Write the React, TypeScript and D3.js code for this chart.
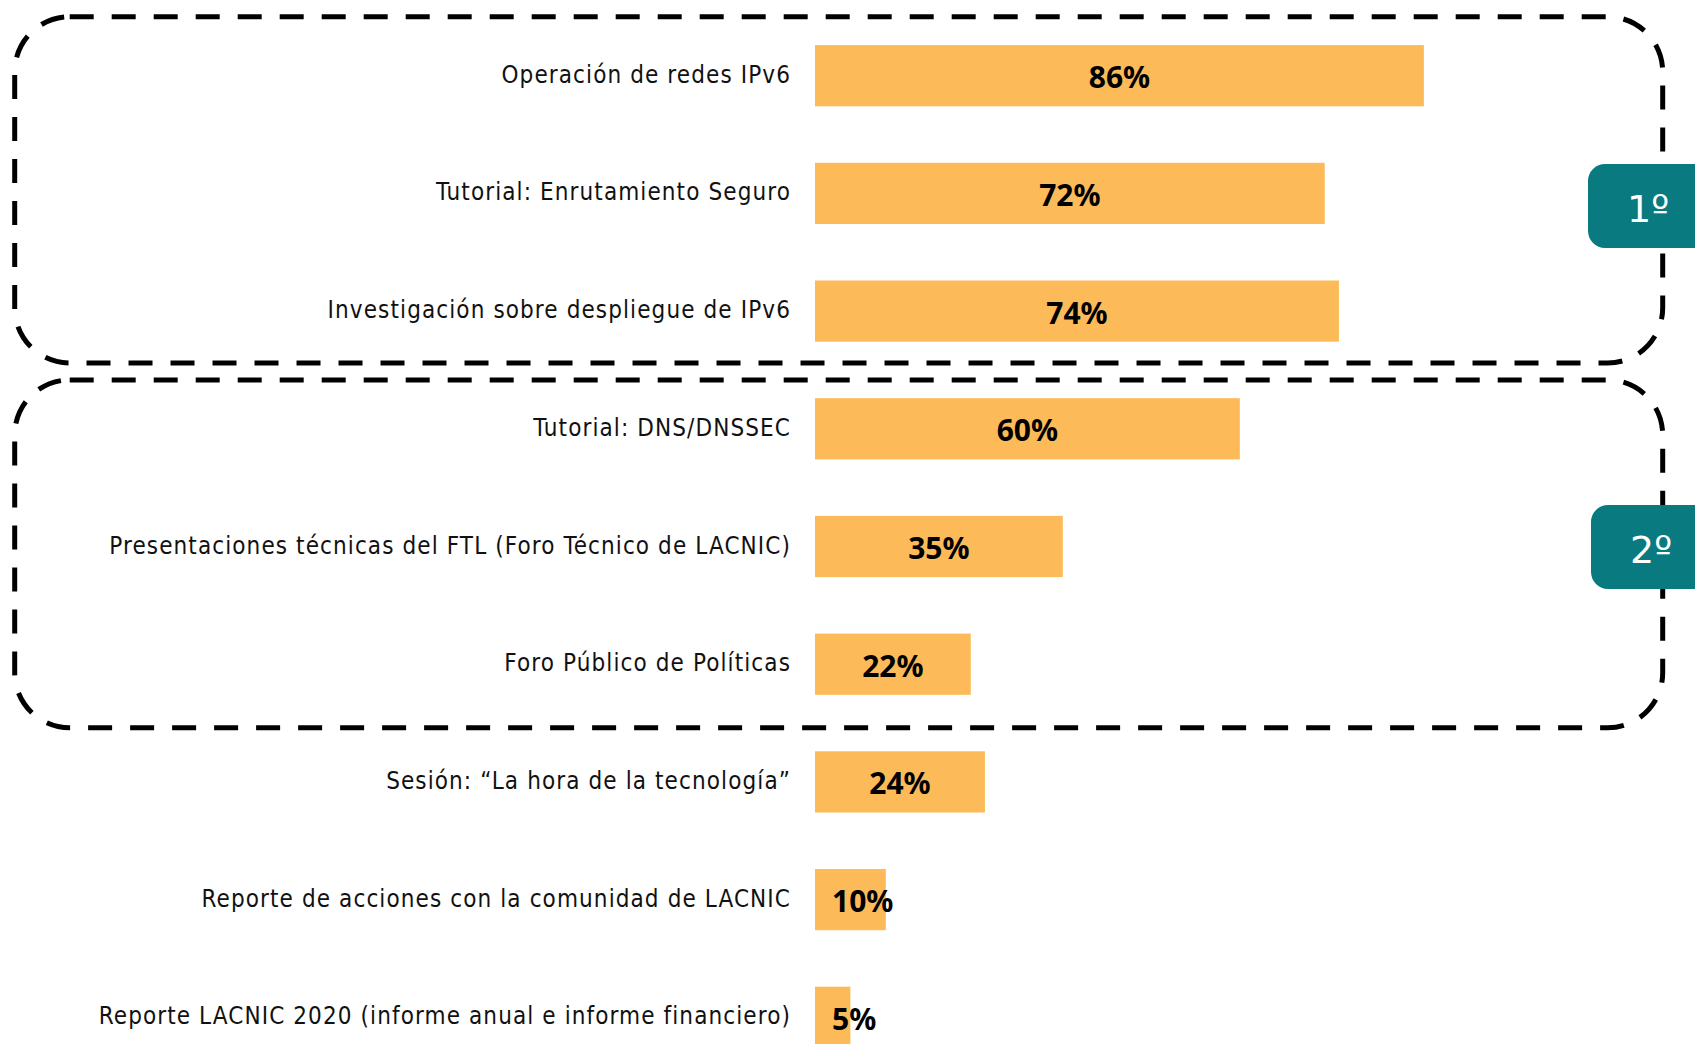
import React from 'react';
import * as d3 from 'd3';

const categories: string[] = [
  'Operación de redes IPv6',
  'Tutorial: Enrutamiento Seguro',
  'Investigación sobre despliegue de IPv6',
  'Tutorial: DNS/DNSSEC',
  'Presentaciones técnicas del FTL (Foro Técnico de LACNIC)',
  'Foro Público de Políticas',
  'Sesión: “La hora de la tecnología”',
  'Reporte de acciones con la comunidad de LACNIC',
  'Reporte LACNIC 2020 (informe anual e informe financiero)',
];

const values: number[] = [86, 72, 74, 60, 35, 22, 24, 10, 5];

const groupLabels: string[] = ['1º', '2º'];
const groupFirst: number[] = [0, 3];
const groupLast: number[] = [2, 5];

const W = 1695;
const H = 1044;
const BAR = '#FCBB58';
const TEAL = '#097A80';

// layout
const boxPadTop = [28.4, 18.3];
const boxPadBottom = [21.3, 33];
const badgeCenterY = [206, 547];
const badgeLeft = [1588, 1591];

export default function App() {
  const x = d3.scaleLinear().domain([0, 100]).range([815, 1523]);
  const y = d3
    .scaleBand<string>()
    .domain(categories)
    .range([16.85, 1076.15])
    .paddingInner(0.48)
    .paddingOuter(0.24);
  const bw = y.bandwidth();

  return (
    <svg
      width={W}
      height={H}
      style={{ position: 'absolute', left: 0, top: 0, background: '#fff' }}
    >
      {/* bars */}
      {categories.map((c, i) => (
        <rect
          key={'b' + i}
          x={x(0)}
          y={y(c)}
          width={x(values[i]) - x(0)}
          height={bw}
          fill={BAR}
        />
      ))}
      {/* category labels */}
      {categories.map((c, i) => (
        <text
          key={'l' + i}
          x={791}
          y={(y(c) as number) + bw / 2 - 1}
          textAnchor="end"
          dominantBaseline="central"
          fontFamily="'DejaVu Sans Condensed', 'DejaVu Sans', sans-serif"
          fontSize={24}
          letterSpacing={1.1}
          fill="#111"
        >
          {c}
        </text>
      ))}
      {/* value labels */}
      {categories.map((c, i) => {
        const wBar = x(values[i]) - x(0);
        const small = wBar < 80;
        return (
          <text
            key={'v' + i}
            x={small ? x(0) + 17 : x(0) + wBar / 2}
            y={(y(c) as number) + bw / 2 + 1}
            textAnchor={small ? 'start' : 'middle'}
            dominantBaseline="central"
            fontFamily="'Noto Sans', 'DejaVu Sans', sans-serif"
            fontWeight="bold"
            fontSize={30}
            fill="#000"
          >
            {values[i] + '%'}
          </text>
        );
      })}
      {/* dashed group boxes */}
      {groupLabels.map((g, k) => {
        const top = (y(categories[groupFirst[k]]) as number) - boxPadTop[k];
        const bottom = (y(categories[groupLast[k]]) as number) + bw + boxPadBottom[k];
        return (
          <rect
            key={'box' + k}
            x={14.7}
            y={top}
            width={1662.7 - 14.7}
            height={bottom - top}
            rx={55}
            ry={55}
            fill="none"
            stroke="#000"
            strokeWidth={5}
            strokeDasharray="24 18"
          />
        );
      })}
      {/* badges */}
      {groupLabels.map((g, k) => (
        <g key={'badge' + k}>
          <rect
            x={badgeLeft[k]}
            y={badgeCenterY[k] - 42}
            width={140}
            height={84}
            rx={17}
            ry={17}
            fill={TEAL}
          />
          <text
            x={badgeLeft[k] + 60}
            y={badgeCenterY[k] + 3}
            textAnchor="middle"
            dominantBaseline="central"
            fontFamily="'DejaVu Sans', sans-serif"
            fontSize={38}
            fill="#fff"
          >
            {g}
          </text>
        </g>
      ))}
    </svg>
  );
}
